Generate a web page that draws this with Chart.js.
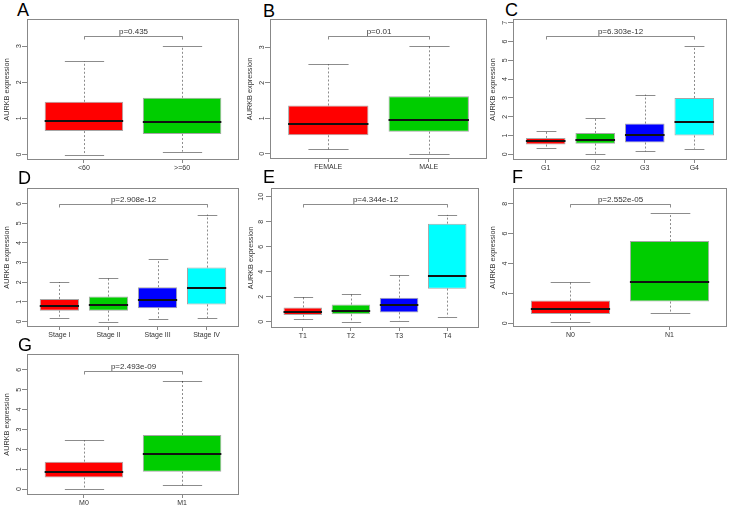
<!DOCTYPE html>
<html>
<head>
<meta charset="utf-8">
<script src="https://cdn.jsdelivr.net/npm/chart.js@4"></script>
<style>
  body { margin: 0; background: #fff; width: 729px; height: 507px; position: relative; overflow: hidden; font-family: "Liberation Sans", Arial, sans-serif; }
  .tag { position: absolute; font-size: 18px; line-height: 18px; color: #000; }
  canvas { position: absolute; }
</style>
</head>
<body>
<script>
// five-number summaries: [lower whisker, q1, median, q3, upper whisker]
const ageCats = ["<60", ">=60"];
const ageStats = [[0, 0.65, 0.92, 1.46, 2.58], [0.08, 0.57, 0.89, 1.57, 3.0]];
const ageTicks = [0, 1, 2, 3];
const ageP = "p=0.435";

const genderCats = ["FEMALE", "MALE"];
const genderStats = [[0.12, 0.52, 0.83, 1.36, 2.52], [0, 0.62, 0.95, 1.62, 3.03]];
const genderTicks = [0, 1, 2, 3];
const genderP = "p=0.01";

const gradeCats = ["G1", "G2", "G3", "G4"];
const gradeStats = [[0.36, 0.52, 0.71, 0.875, 1.23], [0, 0.57, 0.79, 1.14, 1.91], [0.16, 0.63, 1.05, 1.64, 3.18], [0.3, 1.0, 1.7, 3.0, 5.75]];
const gradeTicks = [0, 1, 2, 3, 4, 5, 6, 7];
const gradeP = "p=6.303e-12";

const stageCats = ["Stage I", "Stage II", "Stage III", "Stage IV"];
const stageStats = [[0.18, 0.55, 0.78, 1.15, 2.0], [0, 0.55, 0.85, 1.27, 2.2], [0.13, 0.68, 1.12, 1.75, 3.17], [0.18, 0.87, 1.7, 2.75, 5.45]];
const stageTicks = [0, 1, 2, 3, 4, 5, 6];
const stageP = "p=2.908e-12";

const tCats = ["T1", "T2", "T3", "T4"];
const tStats = [[0.2, 0.55, 0.8, 1.15, 2.0], [0, 0.6, 0.88, 1.38, 2.2], [0.1, 0.75, 1.32, 1.93, 3.75], [0.4, 2.65, 3.7, 7.85, 8.55]];
const tTicks = [0, 2, 4, 6, 8, 10];
const tP = "p=4.344e-12";

const nCats = ["N0", "N1"];
const nStats = [[0.1, 0.62, 0.93, 1.52, 2.77], [0.7, 1.45, 2.73, 5.5, 7.35]];
const nTicks = [0, 2, 4, 6, 8];
const nP = "p=2.552e-05";

const mCats = ["M0", "M1"];
const mStats = [[0, 0.58, 0.85, 1.38, 2.45], [0.18, 0.87, 1.75, 2.72, 5.45]];
const mTicks = [0, 1, 2, 3, 4, 5, 6];
const mP = "p=2.493e-09";

const boxColors = ["#FF0000", "#00CD00", "#0000FF", "#00FFFF"];

// panel layout (plot region in page pixels), y range and bracket height
const panels = [
  { tag: "A", cats: ageCats, stats: ageStats, ticks: ageTicks, p: ageP, yMin: -0.15, yMax: 3.75, bracket: 3.28, left: 27, right: 239, top: 19, bottom: 160, tx: 17, ty: 1 },
  { tag: "B", cats: genderCats, stats: genderStats, ticks: genderTicks, p: genderP, yMin: -0.15, yMax: 3.8, bracket: 3.33, left: 270, right: 487, top: 19, bottom: 159, tx: 263, ty: 2 },
  { tag: "C", cats: gradeCats, stats: gradeStats, ticks: gradeTicks, p: gradeP, yMin: -0.3, yMax: 7.2, bracket: 6.3, left: 513, right: 727, top: 19, bottom: 160, tx: 505, ty: 1 },
  { tag: "D", cats: stageCats, stats: stageStats, ticks: stageTicks, p: stageP, yMin: -0.28, yMax: 6.8, bracket: 6.0, left: 27, right: 239, top: 188, bottom: 327, tx: 18, ty: 169 },
  { tag: "E", cats: tCats, stats: tStats, ticks: tTicks, p: tP, yMin: -0.5, yMax: 10.7, bracket: 9.45, left: 271, right: 479, top: 188, bottom: 328, tx: 263, ty: 168 },
  { tag: "F", cats: nCats, stats: nStats, ticks: nTicks, p: nP, yMin: -0.25, yMax: 9.05, bracket: 8.0, left: 513, right: 727, top: 188, bottom: 327, tx: 512, ty: 168 },
  { tag: "G", cats: mCats, stats: mStats, ticks: mTicks, p: mP, yMin: -0.3, yMax: 6.8, bracket: 5.95, left: 27, right: 239, top: 354, bottom: 495, tx: 18, ty: 336 },
];

Chart.defaults.font.family = '"Liberation Sans", Arial, sans-serif';

const boxParts = {
  id: "boxParts",
  afterDatasetsDraw(chart, args, opts) {
    const ctx = chart.ctx;
    const y = chart.scales.y;
    const bars = chart.getDatasetMeta(0).data;
    ctx.save();
    opts.stats.forEach((s, i) => {
      const bar = bars[i];
      const cx = Math.round(bar.x) + 0.5;
      const w = bar.width;
      // whiskers
      ctx.strokeStyle = "rgba(0,0,0,0.45)";
      ctx.lineWidth = 1;
      ctx.setLineDash([2, 2]);
      ctx.beginPath();
      ctx.moveTo(cx, y.getPixelForValue(s[3]));
      ctx.lineTo(cx, y.getPixelForValue(s[4]));
      ctx.moveTo(cx, y.getPixelForValue(s[1]));
      ctx.lineTo(cx, y.getPixelForValue(s[0]));
      ctx.stroke();
      ctx.setLineDash([]);
      // caps
      ctx.beginPath();
      [s[0], s[4]].forEach(v => {
        const py = Math.round(y.getPixelForValue(v)) + 0.5;
        ctx.moveTo(cx - w / 4, py);
        ctx.lineTo(cx + w / 4, py);
      });
      ctx.stroke();
      // median
      ctx.strokeStyle = "#111";
      ctx.lineWidth = 2;
      ctx.beginPath();
      const my = Math.round(y.getPixelForValue(s[2]));
      ctx.moveTo(bar.x - w / 2, my);
      ctx.lineTo(bar.x + w / 2, my);
      ctx.stroke();
    });
    // comparison bracket and p value
    const x0 = Math.round(bars[0].x) + 0.5;
    const x1 = Math.round(bars[bars.length - 1].x) + 0.5;
    const by = Math.round(y.getPixelForValue(opts.bracket)) + 0.5;
    ctx.strokeStyle = "rgba(0,0,0,0.45)";
    ctx.lineWidth = 1;
    ctx.beginPath();
    ctx.moveTo(x0, by + 3);
    ctx.lineTo(x0, by);
    ctx.lineTo(x1, by);
    ctx.lineTo(x1, by + 3);
    ctx.stroke();
    ctx.fillStyle = "#333";
    ctx.font = '8px "Liberation Sans", Arial, sans-serif';
    ctx.textAlign = "center";
    ctx.textBaseline = "alphabetic";
    ctx.fillText(opts.p, (x0 + x1) / 2, by - 3);
    // plot frame
    const a = chart.chartArea;
    ctx.strokeStyle = "#888";
    ctx.strokeRect(Math.round(a.left) + 0.5, Math.round(a.top) + 0.5, Math.round(a.right - a.left) - 1, Math.round(a.bottom - a.top) - 1);
    ctx.restore();
  },
};

panels.forEach(pn => {
  const n = pn.cats.length;
  const tag = document.createElement("div");
  tag.className = "tag";
  tag.textContent = pn.tag;
  tag.style.left = pn.tx + "px";
  tag.style.top = pn.ty + "px";
  document.body.appendChild(tag);

  const canvas = document.createElement("canvas");
  canvas.width = pn.right - pn.left + 28;
  canvas.height = pn.bottom - pn.top + 17;
  canvas.style.left = (pn.left - 27) + "px";
  canvas.style.top = (pn.top - 1) + "px";
  document.body.appendChild(canvas);

  new Chart(canvas.getContext("2d"), {
    type: "bar",
    data: {
      datasets: [
        {
          data: pn.stats.map((s, i) => ({ x: i + 1, y: [s[1], s[3]] })),
          backgroundColor: boxColors.slice(0, n),
          borderColor: "rgba(0,0,0,0.35)",
          borderWidth: 1,
          borderSkipped: false,
          barPercentage: 0.8,
          categoryPercentage: 1,
        },
      ],
    },
    options: {
      responsive: false,
      animation: false,
      events: [],
      layout: { autoPadding: false, padding: { top: 1, right: 1, left: 0, bottom: 0 } },
      plugins: {
        legend: { display: false },
        tooltip: { enabled: false },
        boxParts: { stats: pn.stats, p: pn.p, bracket: pn.bracket },
      },
      scales: {
        x: {
          type: "linear",
          offset: false,
          min: 0.5 - 0.04 * n,
          max: n + 0.5 + 0.04 * n,
          afterBuildTicks: s => { s.ticks = pn.cats.map((c, i) => ({ value: i + 1 })); },
          afterFit: s => { s.height = 16; s.paddingLeft = 0; s.paddingRight = 0; },
          grid: { offset: false, drawOnChartArea: false, tickLength: 3, color: "#888" },
          border: { display: false },
          ticks: { autoSkip: false, maxRotation: 0, padding: 1, color: "#333", font: { size: 7 }, callback: v => pn.cats[v - 1] },
        },
        y: {
          min: pn.yMin,
          max: pn.yMax,
          afterBuildTicks: s => { s.ticks = pn.ticks.map(v => ({ value: v })); },
          afterFit: s => { s.width = 27; s.paddingTop = 0; s.paddingBottom = 0; },
          grid: { drawOnChartArea: false, tickLength: 5, color: "#888" },
          border: { display: false },
          ticks: { minRotation: 90, maxRotation: 90, crossAlign: "center", padding: 1, color: "#333", font: { size: 7 } },
          title: { display: true, text: "AURKB expression", color: "#333", font: { size: 7.3 }, padding: { top: 3, bottom: 0 } },
        },
      },
    },
    plugins: [boxParts],
  });
});
</script>
</body>
</html>
